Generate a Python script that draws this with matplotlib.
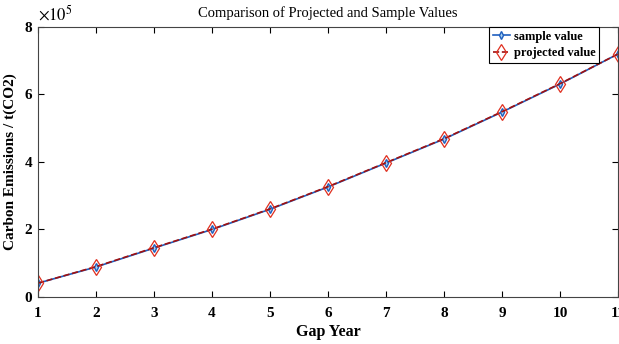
import matplotlib.pyplot as plt

gap_year = [1, 2, 3, 4, 5, 6, 7, 8, 9, 10, 11]
sample_value = [0.41e5, 0.89e5, 1.45e5, 2.0e5, 2.6e5, 3.26e5, 3.97e5, 4.68e5, 5.48e5, 6.31e5, 7.2e5]
projected_value = [0.41e5, 0.90e5, 1.46e5, 2.01e5, 2.61e5, 3.27e5, 3.98e5, 4.69e5, 5.49e5, 6.32e5, 7.2e5]
x_ticks = list(range(1, 12))
y_ticks = [0, 2e5, 4e5, 6e5, 8e5]

plt.rcParams['font.family'] = ['Liberation Serif', 'DejaVu Serif']
plt.rcParams['mathtext.fontset'] = 'stix'

fig = plt.figure(figsize=(6.19, 3.44), dpi=100)
ax = fig.add_axes([0.0614, 0.1366, 0.937, 0.785])

ax.plot(gap_year, sample_value, '-', color='#1f5fbf', lw=1.2, marker='d', ms=4,
        mfc='#a8d0f0', mec='#1f5fbf', label='sample value')
ax.plot(gap_year, projected_value, '--', color='#a01010', lw=1.2, marker='d', ms=8,
        mfc='none', mec='#e03020', mew=0.9, label='projected value')

ax.set_xlim(1, 11)
ax.set_ylim(0, 8e5)
ax.set_xticks(x_ticks)
ax.set_yticks(y_ticks)
ax.set_yticklabels(['0', '2', '4', '6', '8'])
ax.tick_params(direction='in', top=True, right=True, length=4, labelsize=11)
ax.tick_params(axis='x', pad=7)
ax.tick_params(axis='y', pad=4)
for lbl in ax.get_xticklabels() + ax.get_yticklabels():
    lbl.set_fontweight('bold')
for s in ax.spines.values():
    s.set_color('#444444')

ax.text(0.0, 1.01, r'$\times10^5$', transform=ax.transAxes, fontsize=12,
        ha='left', va='bottom')
ax.set_title('Comparison of Projected and Sample Values', fontsize=10.5, pad=7)
ax.set_xlabel('Gap Year', fontsize=11.5, fontweight='bold', labelpad=3)
ax.set_ylabel('Carbon Emissions / t(CO2)', fontsize=11, fontweight='bold')
ax.yaxis.set_label_coords(-0.036, 0.5)

leg = ax.legend(loc='upper right', bbox_to_anchor=(0.968, 1.0),
                prop={'weight': 'bold', 'size': 9}, fancybox=False, framealpha=1,
                edgecolor='black', borderpad=0.3, handlelength=1.4, handletextpad=0.3,
                labelspacing=0.35, borderaxespad=0.0)
leg.get_frame().set_linewidth(0.8)

fig.savefig('out.png', dpi=100)
